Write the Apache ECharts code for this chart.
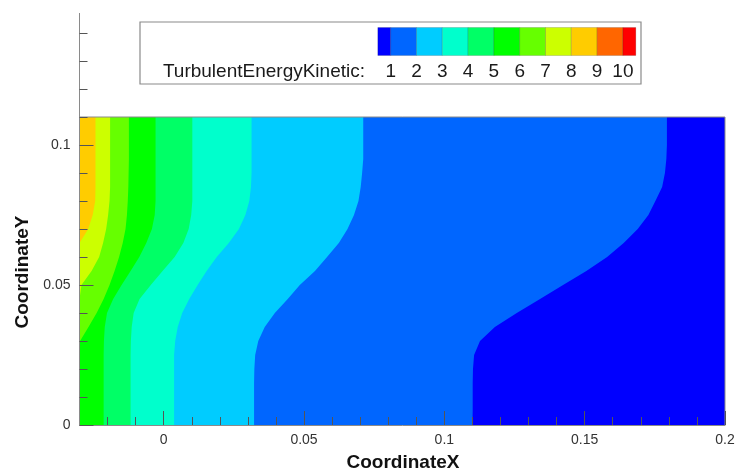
<!DOCTYPE html>
<html>
<head>
<meta charset="utf-8">
<title>TurbulentEnergyKinetic contours</title>
<script src="https://cdn.jsdelivr.net/npm/echarts@6/dist/echarts.min.js"></script>
<style>
  html, body { margin: 0; padding: 0; background: #fff; }
  #chart { width: 739px; height: 473px; }
</style>
</head>
<body>
<div id="chart"></div>
<script>
// Sample heights (CoordinateY) at which every contour edge is given
const coordY = [0, 0.005, 0.01, 0.015, 0.02, 0.025, 0.03, 0.035, 0.04, 0.045, 0.05, 0.055,
                0.06, 0.065, 0.07, 0.075, 0.08, 0.085, 0.09, 0.095, 0.1, 0.105, 0.11];

// CoordinateX of each contour level (value 1 ... 8) at the heights above;
// the field grows towards the left wall, so everything left of an edge is above that level.
const edgeLevel1 = [0.1100, 0.1101, 0.1101, 0.1101, 0.1102, 0.1106, 0.1127, 0.1180, 0.1258, 0.1341, 0.1423, 0.1506,
                    0.1580, 0.1639, 0.1689, 0.1727, 0.1752, 0.1776, 0.1786, 0.1791, 0.1793, 0.1793, 0.1793];
const edgeLevel2 = [0.0322, 0.0322, 0.0322, 0.0322, 0.0323, 0.0326, 0.0337, 0.0360, 0.0396, 0.0442, 0.0485, 0.0539,
                    0.0582, 0.0624, 0.0655, 0.0678, 0.0694, 0.0702, 0.0707, 0.0711, 0.0711, 0.0711, 0.0711];
const edgeLevel3 = [0.0037, 0.0037, 0.0037, 0.0037, 0.0037, 0.0037, 0.0041, 0.0050, 0.0066, 0.0091, 0.0121, 0.0153,
                    0.0189, 0.0232, 0.0268, 0.0291, 0.0305, 0.0311, 0.0313, 0.0313, 0.0313, 0.0313, 0.0313];
const edgeLevel4 = [-0.0118, -0.0118, -0.0118, -0.0118, -0.0118, -0.0118, -0.0117, -0.0114, -0.0107, -0.0086, -0.0046, -0.0004,
                    0.0039, 0.0070, 0.0089, 0.0098, 0.0102, 0.0102, 0.0102, 0.0102, 0.0102, 0.0102, 0.0102];
const edgeLevel5 = [-0.0214, -0.0214, -0.0214, -0.0214, -0.0214, -0.0214, -0.0213, -0.0210, -0.0202, -0.0180, -0.0150, -0.0118,
                    -0.0087, -0.0062, -0.0042, -0.0032, -0.0029, -0.0029, -0.0029, -0.0029, -0.0029, -0.0029, -0.0029];
const edgeLevel6 = [-0.0300, -0.0300, -0.0300, -0.0300, -0.0300, -0.0300, -0.0298, -0.0268, -0.0239, -0.0214, -0.0193, -0.0175,
                    -0.0159, -0.0146, -0.0136, -0.0131, -0.0128, -0.0126, -0.0125, -0.0124, -0.0124, -0.0124, -0.0124];
const edgeLevel7 = [-0.0300, -0.0300, -0.0300, -0.0300, -0.0300, -0.0300, -0.0300, -0.0300, -0.0300, -0.0300, -0.0293, -0.0257,
                    -0.0230, -0.0216, -0.0205, -0.0198, -0.0193, -0.0191, -0.0191, -0.0191, -0.0191, -0.0191, -0.0191];
const edgeLevel8 = [-0.0300, -0.0300, -0.0300, -0.0300, -0.0300, -0.0300, -0.0300, -0.0300, -0.0300, -0.0300, -0.0300, -0.0300,
                    -0.0300, -0.0300, -0.0269, -0.0253, -0.0244, -0.0243, -0.0243, -0.0243, -0.0243, -0.0243, -0.0243];

// Contour levels shown in the legend and the flood colour of each band (below 1, 1-2, ..., above 10)
const legendLevels = [1, 2, 3, 4, 5, 6, 7, 8, 9, 10];
const bandColors = ['#0000FF', '#0066FF', '#00CCFF', '#00FFCC', '#00FF66', '#00FF00',
                    '#66FF00', '#CCFF00', '#FFCC00', '#FF6600', '#FF0000'];

// Domain of the contoured zone
const domainX = [-0.03, 0.2];
const domainY = [0, 0.11];
const axisMaxY = 0.147;

// Tick positions
const xMajorTicks = [0, 0.05, 0.1, 0.15, 0.2];
const xMinorTicks = [-0.02, -0.01, 0.01, 0.02, 0.03, 0.04, 0.06, 0.07, 0.08, 0.09, 0.11, 0.12, 0.13, 0.14,
                     0.16, 0.17, 0.18, 0.19];
const yMajorTicks = [0, 0.05, 0.1];
const yMinorTicks = [0.01, 0.02, 0.03, 0.04, 0.06, 0.07, 0.08, 0.09, 0.11, 0.12, 0.13, 0.14];

const levelEdges = [edgeLevel1, edgeLevel2, edgeLevel3, edgeLevel4, edgeLevel5, edgeLevel6, edgeLevel7, edgeLevel8];

const FONT = 'Arial, "Liberation Sans", Helvetica, sans-serif';
const AXIS_GRAY = '#8a8a8a';
const TICK_GRAY = '#555';

const chart = echarts.init(document.getElementById('chart'), null, { renderer: 'canvas' });

// Paint the domain in the lowest band colour, then each level region on top of it
function renderBands(params, api) {
  const i = params.dataIndex;
  if (i === 0) {
    const a = api.coord([domainX[0], domainY[1]]);
    const b = api.coord([domainX[1], domainY[0]]);
    return {
      type: 'rect',
      shape: { x: a[0], y: a[1], width: b[0] - a[0], height: b[1] - a[1] },
      style: { fill: bandColors[0] }
    };
  }
  const edge = levelEdges[i - 1];
  const pts = [api.coord([domainX[0], domainY[0]])];
  coordY.forEach((y, j) => pts.push(api.coord([edge[j], y])));
  pts.push(api.coord([domainX[0], domainY[1]]));
  return { type: 'polygon', shape: { points: pts }, style: { fill: bandColors[i] } };
}

// Top and right borders of the contoured zone
function renderFrame(params, api) {
  const p0 = api.coord([domainX[0], domainY[1]]);
  const p1 = api.coord([domainX[1], domainY[1]]);
  const p2 = api.coord([domainX[1], domainY[0]]);
  return {
    type: 'polyline',
    shape: { points: [p0, p1, p2] },
    style: { stroke: AXIS_GRAY, lineWidth: 1, fill: null }
  };
}

// Legend: framed box with a discrete colour bar, level numbers sit on the cell joints
const legendGraphics = [];
const box = { x: 140, y: 22, w: 501, h: 62 };
legendGraphics.push({
  type: 'rect', z: 20,
  shape: { x: box.x, y: box.y, width: box.w, height: box.h },
  style: { fill: '#fff', stroke: '#8a8a8a', lineWidth: 1.2 }
});
const cellW = 25.8, barLeft = 377.8, barTop = 27.5, barH = 28;
bandColors.forEach((c, k) => {
  const half = (k === 0 || k === bandColors.length - 1);
  const x = k === 0 ? barLeft : barLeft + cellW / 2 + (k - 1) * cellW;
  legendGraphics.push({
    type: 'rect', z: 21,
    shape: { x: x, y: barTop, width: half ? cellW / 2 : cellW, height: barH },
    style: { fill: c, stroke: 'rgba(0,0,0,0.25)', lineWidth: 0.6 }
  });
});
legendLevels.forEach((lv, k) => {
  legendGraphics.push({
    type: 'text', z: 22,
    x: barLeft + cellW / 2 + k * cellW, y: 71.5,
    style: { text: String(lv), font: '19px ' + FONT, fill: '#1a1a1a', textAlign: 'center', textVerticalAlign: 'middle' }
  });
});
legendGraphics.push({
  type: 'text', z: 22, x: 365, y: 71.5,
  style: { text: 'TurbulentEnergyKinetic:', font: '19px ' + FONT, fill: '#1a1a1a', textAlign: 'right', textVerticalAlign: 'middle' }
});

// Axis titles
legendGraphics.push({
  type: 'text', z: 22, x: 403, y: 463,
  style: { text: 'CoordinateX', font: 'bold 19px ' + FONT, fill: '#111', textAlign: 'center', textVerticalAlign: 'middle' }
});
legendGraphics.push({
  type: 'text', z: 22, x: 23, y: 272, rotation: Math.PI / 2,
  style: { text: 'CoordinateY', font: 'bold 19px ' + FONT, fill: '#111', textAlign: 'center', textVerticalAlign: 'middle' }
});

const gridBox = { left: 79.5, right: 14, top: 425 - axisMaxY * 2800, bottom: 48 };

const labelStyle = { fontFamily: FONT, fontSize: 14, color: '#333' };

chart.setOption({
  animation: false,
  backgroundColor: '#fff',
  grid: { left: gridBox.left, right: gridBox.right, top: gridBox.top, bottom: gridBox.bottom, containLabel: false },
  xAxis: [
    {
      type: 'value', min: domainX[0], max: domainX[1], position: 'bottom', z: 5,
      axisLine: { show: true, onZero: false, lineStyle: { color: AXIS_GRAY, width: 1 } },
      axisTick: { show: true, inside: true, length: 14, customValues: xMajorTicks, lineStyle: { color: TICK_GRAY, width: 1 } },
      axisLabel: Object.assign({ show: true, margin: 8, customValues: xMajorTicks }, labelStyle),
      splitLine: { show: false }
    },
    {
      type: 'value', min: domainX[0], max: domainX[1], position: 'bottom', z: 5,
      axisLine: { show: false, onZero: false },
      axisTick: { show: true, inside: true, length: 8, customValues: xMinorTicks, lineStyle: { color: TICK_GRAY, width: 1 } },
      axisLabel: { show: false },
      splitLine: { show: false }
    }
  ],
  yAxis: [
    {
      type: 'value', min: 0, max: axisMaxY, position: 'left', z: 5,
      axisLine: { show: true, onZero: false, lineStyle: { color: AXIS_GRAY, width: 1 } },
      axisTick: { show: true, inside: true, length: 14, customValues: yMajorTicks, lineStyle: { color: TICK_GRAY, width: 1 } },
      axisLabel: Object.assign({ show: true, margin: 9, customValues: yMajorTicks }, labelStyle),
      splitLine: { show: false }
    },
    {
      type: 'value', min: 0, max: axisMaxY, position: 'left', z: 5,
      axisLine: { show: false, onZero: false },
      axisTick: { show: true, inside: true, length: 8, customValues: yMinorTicks, lineStyle: { color: TICK_GRAY, width: 1 } },
      axisLabel: { show: false },
      splitLine: { show: false }
    }
  ],
  series: [
    {
      type: 'custom', name: 'TurbulentEnergyKinetic', z: 1,
      xAxisIndex: 0, yAxisIndex: 0,
      renderItem: renderBands,
      data: [0, 1, 2, 3, 4, 5, 6, 7, 8].map(i => [domainX[0], domainY[0], i]),
      silent: true
    },
    {
      type: 'custom', name: 'zone border', z: 2,
      xAxisIndex: 0, yAxisIndex: 0,
      renderItem: renderFrame,
      data: [[domainX[1], domainY[1]]],
      silent: true
    }
  ],
  graphic: legendGraphics
});
</script>
</body>
</html>
